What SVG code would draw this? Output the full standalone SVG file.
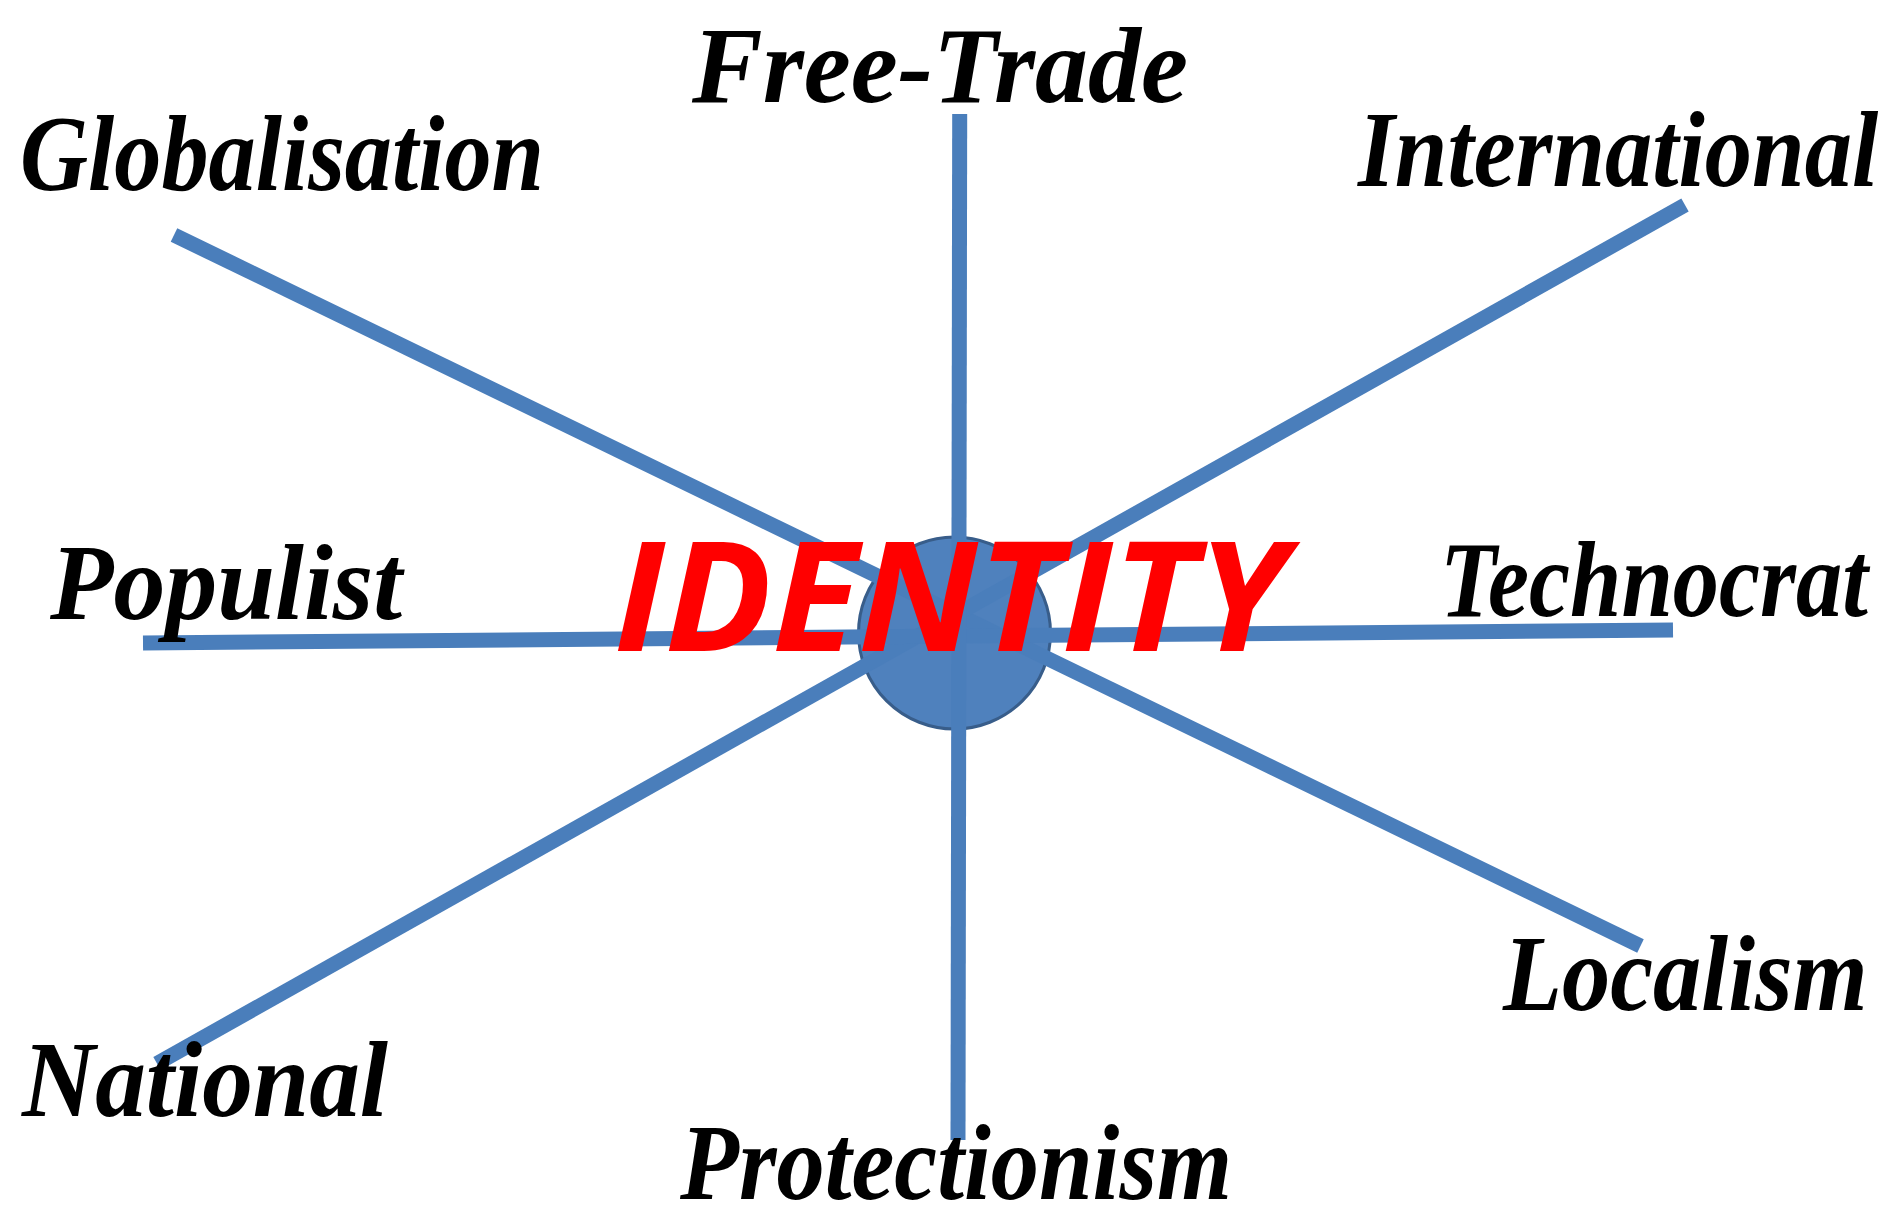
<svg xmlns="http://www.w3.org/2000/svg" width="1901" height="1225" viewBox="0 0 1901 1225">
<style>
.bg{fill:#ffffff}
.spoke{stroke:#4A7EBB;stroke-width:15;fill:none;stroke-linecap:butt}
.hub{fill:#4F81BD;stroke:#385D8A;stroke-width:3}
.lbl{font-family:"Liberation Serif","DejaVu Serif",serif;font-style:italic;font-weight:bold;font-size:108px;fill:#000000}
.core{font-family:"Open Sans","Liberation Sans",sans-serif;font-style:italic;font-weight:bold;font-size:152px;fill:#FF0000}
</style>
<rect class="bg" x="0" y="0" width="1901" height="1225"/>
<g id="hub">
<circle class="hub" cx="954.5" cy="633" r="96"/>
</g>
<g id="connectors">
<line class="spoke" x1="174" y1="235" x2="1640.5" y2="946"/>
<line class="spoke" x1="1685" y1="205" x2="157" y2="1063.5"/>
<line class="spoke" x1="143" y1="643" x2="1673" y2="630"/>
<line class="spoke" x1="959.7" y1="114" x2="958" y2="1140"/>
</g>
<g id="node-globalisation"><text class="lbl" x="20" y="190" textLength="524" lengthAdjust="spacingAndGlyphs">Globalisation</text></g>
<g id="node-free-trade"><text class="lbl" x="692" y="102" textLength="496" lengthAdjust="spacingAndGlyphs">Free-Trade</text></g>
<g id="node-international"><text class="lbl" transform="translate(1358,186) scale(0.85,1)" x="0" y="0" textLength="612" lengthAdjust="spacingAndGlyphs">International</text></g>
<g id="node-populist"><text class="lbl" x="50" y="619" textLength="352" lengthAdjust="spacingAndGlyphs">Populist</text></g>
<g id="node-technocrat"><text class="lbl" transform="translate(1440,616) scale(0.8,1)" x="0" y="0" textLength="535" lengthAdjust="spacingAndGlyphs">Technocrat</text></g>
<g id="node-localism"><text class="lbl" transform="translate(1503,1010) scale(0.85,1)" x="0" y="0" textLength="429" lengthAdjust="spacingAndGlyphs">Localism</text></g>
<g id="node-national"><text class="lbl" x="22" y="1116" textLength="366" lengthAdjust="spacingAndGlyphs">National</text></g>
<g id="node-protectionism"><text class="lbl" x="680" y="1199" textLength="552" lengthAdjust="spacingAndGlyphs">Protectionism</text></g>
<g id="node-identity"><text class="core" x="614" y="651" textLength="672" lengthAdjust="spacingAndGlyphs">IDENTITY</text></g>
</svg>
